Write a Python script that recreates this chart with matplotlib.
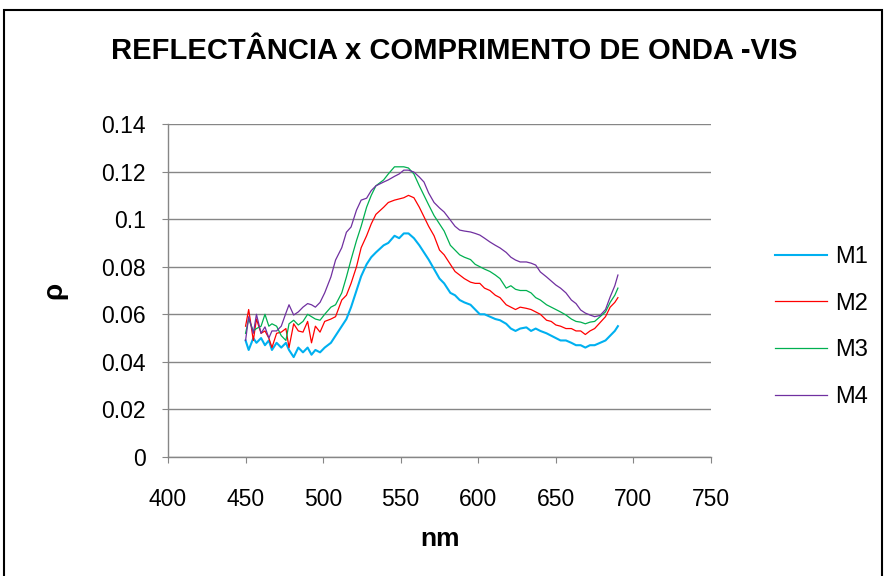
import matplotlib
matplotlib.use("Agg")
import matplotlib.pyplot as plt
from matplotlib.patches import Rectangle

wavelength = [450, 452, 455, 457, 460, 462.5, 465, 467, 470, 473, 476, 478, 481, 484, 487,
              490, 492.5, 495, 498, 501, 505, 508, 512, 515, 518, 521.5, 524.5, 528, 531, 534,
              539, 542, 546, 549, 552, 555, 558.5, 562, 565, 568, 571.5, 575, 578, 582, 585,
              588, 591, 595, 598, 601, 604, 607.5, 611, 614, 618, 621, 624, 627, 631, 634,
              637, 640, 644, 647, 650, 653, 656.5, 660, 663, 666, 669, 672, 675, 678.5, 682,
              685, 688, 690]

m1 = [0.049, 0.045, 0.050, 0.048, 0.050, 0.047, 0.049, 0.045, 0.048, 0.046, 0.048, 0.045, 0.042,
      0.046, 0.044, 0.046, 0.043, 0.045, 0.044, 0.046, 0.048, 0.051, 0.055, 0.058, 0.063, 0.070,
      0.076, 0.081, 0.084, 0.086, 0.089, 0.090, 0.093, 0.092, 0.094, 0.094, 0.092, 0.089, 0.086,
      0.083, 0.079, 0.075, 0.073, 0.069, 0.068, 0.066, 0.065, 0.064, 0.062, 0.060, 0.060, 0.059,
      0.058, 0.0575, 0.056, 0.054, 0.053, 0.054, 0.0545, 0.053, 0.054, 0.053, 0.052, 0.051, 0.050,
      0.049, 0.049, 0.048, 0.047, 0.047, 0.046, 0.047, 0.047, 0.048, 0.049, 0.051, 0.053, 0.055]

m2 = [0.055, 0.062, 0.049, 0.058, 0.052, 0.053, 0.050, 0.046, 0.052, 0.0525, 0.054, 0.046, 0.056,
      0.053, 0.0525, 0.057, 0.048, 0.055, 0.0525, 0.057, 0.058, 0.059, 0.066, 0.068, 0.073, 0.080,
      0.088, 0.093, 0.098, 0.102, 0.105, 0.107, 0.108, 0.1085, 0.109, 0.110, 0.109, 0.105, 0.101,
      0.097, 0.093, 0.087, 0.085, 0.081, 0.078, 0.0765, 0.075, 0.0735, 0.073, 0.073, 0.071, 0.070,
      0.068, 0.067, 0.064, 0.063, 0.062, 0.063, 0.0625, 0.062, 0.061, 0.060, 0.0575, 0.057, 0.0555,
      0.055, 0.054, 0.054, 0.053, 0.053, 0.0515, 0.053, 0.054, 0.0565, 0.059, 0.063, 0.065, 0.067]

m3 = [0.052, 0.058, 0.053, 0.054, 0.055, 0.060, 0.055, 0.056, 0.055, 0.051, 0.049, 0.056, 0.0575,
      0.0555, 0.057, 0.060, 0.059, 0.058, 0.0575, 0.060, 0.063, 0.064, 0.069, 0.0757, 0.083, 0.091,
      0.097, 0.105, 0.110, 0.114, 0.1165, 0.119, 0.122, 0.122, 0.122, 0.1215, 0.119, 0.114, 0.110,
      0.106, 0.1015, 0.098, 0.095, 0.089, 0.087, 0.085, 0.084, 0.083, 0.081, 0.080, 0.079, 0.078,
      0.0765, 0.075, 0.071, 0.072, 0.0705, 0.070, 0.070, 0.069, 0.067, 0.066, 0.064, 0.063, 0.062,
      0.061, 0.0597, 0.058, 0.057, 0.0567, 0.056, 0.0567, 0.057, 0.059, 0.061, 0.065, 0.068, 0.071]

m4 = [0.049, 0.059, 0.052, 0.060, 0.052, 0.0547, 0.050, 0.053, 0.053, 0.055, 0.0605, 0.064, 0.0597,
      0.061, 0.063, 0.0645, 0.064, 0.063, 0.065, 0.069, 0.0757, 0.0828, 0.088, 0.0945, 0.0967, 0.1038,
      0.108, 0.1088, 0.112, 0.114, 0.1156, 0.1165, 0.118, 0.119, 0.1206, 0.1206, 0.1198, 0.1177, 0.1156,
      0.111, 0.107, 0.1047, 0.103, 0.0996, 0.097, 0.0954, 0.095, 0.0946, 0.094, 0.0933, 0.092, 0.0904,
      0.089, 0.0879, 0.086, 0.084, 0.0828, 0.082, 0.082, 0.0815, 0.0807, 0.0778, 0.0757, 0.074, 0.0723,
      0.071, 0.069, 0.066, 0.0645, 0.0618, 0.0605, 0.0597, 0.059, 0.0595, 0.062, 0.0673, 0.072, 0.0765]

series_names = ["M1", "M2", "M3", "M4"]
x_ticks = [400, 450, 500, 550, 600, 650, 700, 750]
y_ticks = [0, 0.02, 0.04, 0.06, 0.08, 0.1, 0.12, 0.14]
y_tick_labels = ["0", "0.02", "0.04", "0.06", "0.08", "0.1", "0.12", "0.14"]

plt.rcParams['font.family'] = ['Liberation Sans', 'DejaVu Sans']

fig = plt.figure(figsize=(8.85, 5.76), dpi=100)
ax = fig.add_axes([168/885, (576-457)/576, 543/885, 333/576])

colors = ["#00B0F0", "#FF0000", "#00B050", "#7030A0"]
widths = [1.5, 0.9, 0.9, 0.9]
for vals, name, c, w in zip([m1, m2, m3, m4], series_names, colors, widths):
    ax.plot(wavelength, vals, color=c, lw=w, label=name)

ax.set_xlim(400, 750)
ax.set_ylim(0, 0.14)
ax.set_xticks(x_ticks)
ax.set_yticks(y_ticks)
ax.set_yticklabels(y_tick_labels)
ax.tick_params(axis='both', labelsize=16.5, length=4, color="#868686", direction='out')
ax.tick_params(axis='x', pad=18)
ax.tick_params(axis='y', pad=12)
ax.grid(axis='y', color="#868686", lw=1.0)
ax.set_axisbelow(True)
for s in ["top", "right"]:
    ax.spines[s].set_visible(False)
for s in ["left", "bottom"]:
    ax.spines[s].set_color("#868686")
    ax.spines[s].set_linewidth(1.0)

ax.set_xlabel("nm", fontsize=19, fontweight='bold', labelpad=12)
ax.set_ylabel("ρ", fontsize=20, fontweight='bold', labelpad=24)

fig.text(454/885, 1 - 51/576, "REFLECTÂNCIA x COMPRIMENTO DE ONDA -VIS", ha='center', va='center',
         fontsize=21, fontweight='bold')

leg = fig.legend(loc='center left', bbox_to_anchor=(754/885, 1 - 327/576), frameon=False,
                 fontsize=17, handlelength=2.2, labelspacing=1.05, handletextpad=0.35)

fig.patches.append(Rectangle((4/885, -0.02), 878/885, 1 - 10/576 + 0.02, transform=fig.transFigure,
                             fill=False, edgecolor='black', lw=1.5))

fig.savefig("out.png", dpi=100)
